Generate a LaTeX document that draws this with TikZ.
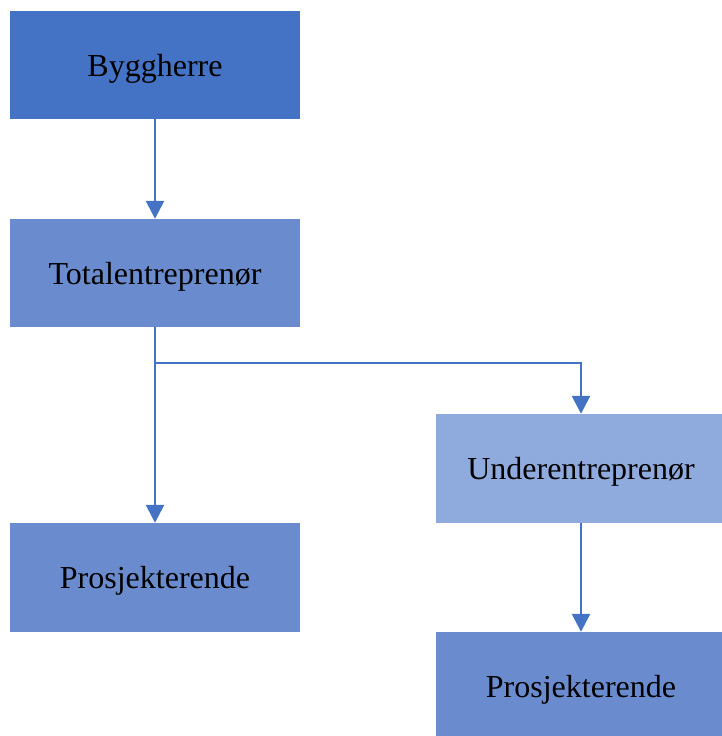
\documentclass[tikz,border=0pt]{standalone}
\usepackage{fontspec}
\setmainfont{Liberation Serif}
\usetikzlibrary{arrows.meta}
\definecolor{darkblue}{HTML}{4472C4}
\definecolor{midblue}{HTML}{6A8CCE}
\definecolor{lightblue}{HTML}{8FAADC}
\tikzset{
  box/.style={rectangle, inner sep=0pt, text=black, text depth=0pt,
    font=\fontsize{32}{38}\selectfont},
  link/.style={draw=darkblue, line width=2.7pt,
    -{Triangle[width=18pt,length=18pt]}},
}
\begin{document}
\begin{tikzpicture}[x=1pt,y=-1pt]
  \useasboundingbox (0,0) rectangle (722,736);
  \node[box, fill=darkblue, minimum width=290pt, minimum height=108pt] (bygg) at (155,65) {Byggherre};
  \node[box, fill=midblue, minimum width=290pt, minimum height=108pt] (total) at (155,273) {Totalentreprenør};
  \node[box, fill=midblue, minimum width=290pt, minimum height=109pt] (prosL) at (155,577.5) {Prosjekterende};
  \node[box, fill=lightblue, minimum width=290pt, minimum height=109pt] (under) at (581,468.5) {Underentreprenør};
  \node[box, fill=midblue, minimum width=290pt, minimum height=109pt] (prosR) at (581,686.5) {Prosjekterende};
  \coordinate (branch) at (155,363);
  \draw[link] (bygg.south) -- (total.north);
  \draw[link] (total.south) -- (prosL.north);
  \draw[link] (branch) -| (under.north);
  \draw[link] (under.south) -- (prosR.north);
\end{tikzpicture}
\end{document}
